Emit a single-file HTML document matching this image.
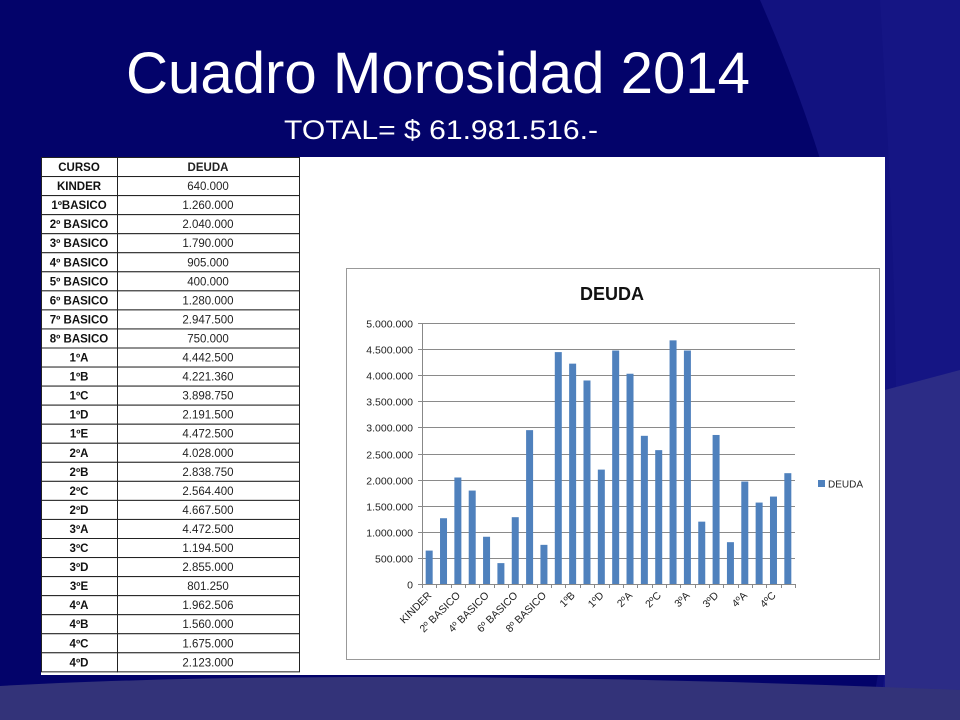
<!DOCTYPE html>
<html>
<head>
<meta charset="utf-8">
<style>
html,body{margin:0;padding:0;}
body{width:960px;height:720px;overflow:hidden;background:#03036a;font-family:"Liberation Sans",sans-serif;position:relative;}
#bg{position:absolute;left:0;top:0;}
#title{position:absolute;left:0;top:0;}
#panel{position:absolute;left:41px;top:157px;width:844px;height:518px;background:#fff;}
#tbl{position:absolute;left:41px;top:157px;}
#chart{position:absolute;left:0;top:0;}
</style>
</head>
<body>
<svg id="bg" width="960" height="720">
  <rect width="960" height="720" fill="#03036a"/>
  <path d="M760,0 L960,0 L960,720 L880,720 C905,500 870,250 760,0 Z" fill="#121280"/>
  <path d="M870,720 C900,560 905,420 880,0 L960,0 L960,720 Z" fill="#181888" opacity="0.5"/>
  <path d="M885,390 L960,370 L960,720 L885,720 Z" fill="#2c2c86"/>
  <path d="M0,686 C250,672 600,675 960,690 L960,720 L0,720 Z" fill="#333379"/>
</svg>
<svg id="title" width="960" height="160">
  <text x="126" y="93" font-family="Liberation Sans, sans-serif" font-size="58" fill="#fff" textLength="624" lengthAdjust="spacingAndGlyphs">Cuadro Morosidad 2014</text>
  <text x="284" y="139" font-family="Liberation Sans, sans-serif" font-size="27" fill="#fff" textLength="314" lengthAdjust="spacingAndGlyphs">TOTAL= $ 61.981.516.-</text>
</svg>
<div id="panel"></div>
<svg id="tbl" width="260" height="520"></svg>
<svg id="chart" width="960" height="720"></svg>
<script>
const courses=["KINDER","1ºBASICO","2º BASICO","3º BASICO","4º BASICO","5º BASICO","6º BASICO","7º BASICO","8º BASICO","1ºA","1ºB","1ºC","1ºD","1ºE","2ºA","2ºB","2ºC","2ºD","3ºA","3ºC","3ºD","3ºE","4ºA","4ºB","4ºC","4ºD"];
const debts=["640.000","1.260.000","2.040.000","1.790.000","905.000","400.000","1.280.000","2.947.500","750.000","4.442.500","4.221.360","3.898.750","2.191.500","4.472.500","4.028.000","2.838.750","2.564.400","4.667.500","4.472.500","1.194.500","2.855.000","801.250","1.962.506","1.560.000","1.675.000","2.123.000"];
const categories=["KINDER","1º BASICO","2º BASICO","3º BASICO","4º BASICO","5º BASICO","6º BASICO","7º BASICO","8º BASICO","1ºA","1ºB","1ºC","1ºD","1ºE","2ºA","2ºB","2ºC","2ºD","3ºA","3ºC","3ºD","3ºE","4ºA","4ºB","4ºC","4ºD"];
const values=[640000,1260000,2040000,1790000,905000,400000,1280000,2947500,750000,4442500,4221360,3898750,2191500,4472500,4028000,2838750,2564400,4667500,4472500,1194500,2855000,801250,1962506,1560000,1675000,2123000];
const tickValues=[0,500000,1000000,1500000,2000000,2500000,3000000,3500000,4000000,4500000,5000000];
const tickLabels=["0","500.000","1.000.000","1.500.000","2.000.000","2.500.000","3.000.000","3.500.000","4.000.000","4.500.000","5.000.000"];

const NS="http://www.w3.org/2000/svg";
function mk(parent,tag,attrs,text){const e=document.createElementNS(NS,tag);for(const k in attrs)e.setAttribute(k,attrs[k]);if(text!==undefined)e.textContent=text;parent.appendChild(e);return e;}

const tbl=document.getElementById('tbl');
const W1=76,W2=182,RH=19.05;
const rows=[["CURSO","DEUDA"]].concat(courses.map((c,i)=>[c,debts[i]]));
rows.forEach((r,i)=>{
  const y=i*RH;
  const g=mk(tbl,'g',{});
  
  
  mk(g,'rect',{x:0.5,y:y+0.5,width:W1,height:RH,fill:'#fff',stroke:'#222','stroke-width':1});
  mk(g,'rect',{x:W1+0.5,y:y+0.5,width:W2,height:RH,fill:'#fff',stroke:'#222','stroke-width':1});
  const t1=mk(g,'text',{x:W1/2,y:y+14,'text-anchor':'middle','font-size':11.5,'font-weight':'bold',fill:'#111','font-family':'Liberation Sans, sans-serif'},r[0]);
  
  
  const t2=mk(g,'text',{x:W1+W2/2,y:y+14,'text-anchor':'middle','font-size':11.5,'font-weight':i===0?'bold':'normal',fill:'#222','font-family':'Liberation Sans, sans-serif'},r[1]);
  
  
});

const ch=document.getElementById('chart');
const frame=mk(ch,'rect',{x:346.5,y:268.5,width:533,height:391,fill:'#fff',stroke:'#999','stroke-width':1});


const ttl=mk(ch,'text',{x:612,y:300,'text-anchor':'middle','font-size':18,'font-weight':'bold',fill:'#111'},'DEUDA');


const X0=422,X1=795,Y0=584,Y1=323,VMAX=5000000;
const step=(X1-X0)/categories.length;
function yScale(v){return Y0-(v/VMAX)*(Y0-Y1);}
function xCenter(i){return X0+step*(i+0.5);}
tickValues.forEach((v,i)=>{
  const y=Math.round(yScale(v))+0.5;
  const gl=mk(ch,'line',{x1:X0,x2:X1,y1:y,y2:y,stroke:'#8a8a8a','stroke-width':1});
  
  
  mk(ch,'line',{x1:X0-4,x2:X0,y1:y,y2:y,stroke:'#888'});
  const t=mk(ch,'text',{x:X0-9,y:y+4,'text-anchor':'end','font-size':10.5,fill:'#222'},tickLabels[i]);
  
  
});
mk(ch,'line',{x1:X0+0.5,x2:X0+0.5,y1:Y1,y2:Y0,stroke:'#888'});
for(let i=0;i<=categories.length;i++){
  const x=Math.round(X0+step*i)+0.5;
  mk(ch,'line',{x1:x,x2:x,y1:Y0,y2:Y0+4,stroke:'#888'});
}
values.forEach((v,i)=>{
  const bw=7;
  const b=mk(ch,'rect',{x:xCenter(i)-bw/2,y:yScale(v),width:bw,height:Y0-yScale(v),fill:'#4f81bd'});
  
  
});
categories.forEach((c,i)=>{
  if(i%2!==0)return;
  const x=xCenter(i)+3,y=Y0+12;
  const t=mk(ch,'text',{x:x,y:y,'text-anchor':'end','font-size':10.5,fill:'#222',transform:'rotate(-45 '+x+' '+y+')'},c);
  
  
});
const lg=mk(ch,'g',{});


mk(lg,'rect',{x:818,y:480,width:7,height:7,fill:'#4f81bd'});
mk(lg,'text',{x:828,y:487.5,'font-size':10,fill:'#222'},'DEUDA');
</script>
</body>
</html>
